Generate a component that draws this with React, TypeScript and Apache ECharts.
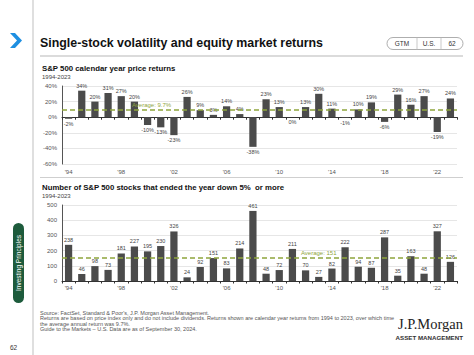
import React, { useEffect, useRef } from "react";
import * as echarts from "echarts";

const years = [
  "1994", "1995", "1996", "1997", "1998", "1999", "2000", "2001", "2002", "2003",
  "2004", "2005", "2006", "2007", "2008", "2009", "2010", "2011", "2012", "2013",
  "2014", "2015", "2016", "2017", "2018", "2019", "2020", "2021", "2022", "2023",
];
const returns = [-2, 34, 20, 31, 27, 20, -10, -13, -23, 26, 9, 3, 14, 4, -38, 23, 13, 0, 13, 30, 11, -1, 10, 19, -6, 29, 16, 27, -19, 24];
const down5 = [238, 46, 98, 73, 181, 227, 195, 230, 326, 24, 92, 151, 83, 214, 461, 48, 72, 211, 70, 27, 82, 222, 94, 87, 287, 35, 163, 48, 327, 126];
const avgReturn = 9.7;
const avgDown = 151;
const avgReturnLabelYear = "2000";
const avgDownLabelYear = "2013";

const footerLines = [
  "Source: FactSet, Standard & Poor's, J.P. Morgan Asset Management.",
  "Returns are based on price index only and do not include dividends. Returns shown are calendar year returns from 1994 to 2023, over which time",
  "the average annual return was 9.7%.",
  "Guide to the Markets – U.S. Data are as of September 30, 2024.",
];

const FONT = "'Liberation Sans', Arial, Helvetica, sans-serif";
const BAR = "#4b4b4b";
const GREEN = "#8fa53c";
const AX = "#555";

export default function App() {
  const ref = useRef<HTMLDivElement>(null);
  useEffect(() => {
    document.body.style.margin = "0";
    const chart = echarts.init(ref.current!, undefined, { renderer: "svg" });
    const yearLabel = (v: string) => "'" + v.slice(2);
    const option: any = {
      animation: false,
      textStyle: { fontFamily: FONT },
      grid: [
        { left: 62, right: 17, top: 86, bottom: 191 },
        { left: 62, right: 17, top: 205, bottom: 74 },
      ],
      xAxis: [
        {
          gridIndex: 0, type: "category", data: years, position: "bottom",
          axisLine: { onZero: false, show: false }, axisTick: { show: false },
          axisLabel: { interval: 3, formatter: yearLabel, fontSize: 6, color: AX, margin: 5 },
        },
        {
          gridIndex: 0, type: "category", data: years, position: "top",
          axisLine: { onZero: true, lineStyle: { color: "#333", width: 1 } },
          axisTick: { show: true, interval: 0, inside: true, length: 2.5, lineStyle: { color: "#333" } },
          axisLabel: { show: false },
        },
        {
          gridIndex: 1, type: "category", data: years,
          axisLine: { lineStyle: { color: "#333", width: 1 } },
          axisTick: { show: true, interval: 0, length: 2.5, lineStyle: { color: "#333" } },
          axisLabel: { interval: 3, formatter: yearLabel, fontSize: 6, color: AX, margin: 4 },
        },
      ],
      yAxis: [
        {
          gridIndex: 0, type: "value", min: -60, max: 40, interval: 20,
          axisLine: { show: true, lineStyle: { color: AX } }, axisTick: { show: false },
          axisLabel: { formatter: "{value}%", fontSize: 6, color: AX, margin: 5 },
          splitLine: { lineStyle: { color: "#e6e6e6" } },
        },
        {
          gridIndex: 1, type: "value", min: 0, max: 500, interval: 100,
          axisLine: { show: true, lineStyle: { color: AX } }, axisTick: { show: false },
          axisLabel: { fontSize: 6, color: AX, margin: 5 },
          splitLine: { lineStyle: { color: "#e6e6e6" } },
        },
      ],
      series: [
        {
          type: "bar", xAxisIndex: 0, yAxisIndex: 0, barWidth: "55%",
          itemStyle: { color: BAR },
          data: returns.map((v) => ({ value: v, label: { position: v <= 0 ? "bottom" : "top" } })),
          label: { show: true, formatter: "{c}%", fontSize: 5.5, color: "#444", distance: 2 },
          markLine: {
            silent: true, symbol: ["none", "none"], label: { show: false },
            lineStyle: { color: GREEN, type: [5, 3], width: 1.5 },
            data: [{ yAxis: avgReturn }],
          },
          markPoint: {
            symbol: "circle", symbolSize: 0, silent: true,
            data: [{ coord: [avgReturnLabelYear, avgReturn] }],
            label: { show: true, formatter: "Average: " + avgReturn + "%", position: "top", color: GREEN, fontSize: 6, distance: 2, offset: [4, 0] },
          },
        },
        {
          type: "bar", xAxisIndex: 2, yAxisIndex: 1, barWidth: "55%",
          itemStyle: { color: BAR },
          data: down5,
          label: { show: true, position: "top", fontSize: 5.5, color: "#444", distance: 2 },
          markLine: {
            silent: true, symbol: ["none", "none"], label: { show: false },
            lineStyle: { color: GREEN, type: [5, 3], width: 1.5 },
            data: [{ yAxis: avgDown }],
          },
          markPoint: {
            symbol: "circle", symbolSize: 0, silent: true,
            data: [{ coord: [avgDownLabelYear, avgDown] }],
            label: { show: true, formatter: "Average: " + avgDown, position: "top", color: GREEN, fontSize: 6, distance: 2 },
          },
        },
      ],
      graphic: [
        { type: "line", shape: { x1: 33, y1: 0, x2: 33, y2: 355 }, style: { stroke: "#d4d4d4", lineWidth: 1.5 } },
        { type: "polygon", shape: { points: [[10, 33], [15, 33], [22, 40.5], [15, 48], [10, 48], [17, 40.5]] }, style: { fill: "#1e8fe1" } },
        { type: "text", x: 40, y: 43, style: { text: "Single-stock volatility and equity market returns", fontSize: 12.4, fontWeight: "bold", fill: "#111", fontFamily: FONT, verticalAlign: "middle" } },
        { type: "rect", shape: { x: 387, y: 37.5, width: 76, height: 12, r: 6 }, style: { fill: "none", stroke: "#999", lineWidth: 0.8 } },
        { type: "line", shape: { x1: 417, y1: 37.5, x2: 417, y2: 49.5 }, style: { stroke: "#bbb", lineWidth: 0.8 } },
        { type: "line", shape: { x1: 441, y1: 37.5, x2: 441, y2: 49.5 }, style: { stroke: "#bbb", lineWidth: 0.8 } },
        { type: "text", x: 402, y: 43.5, style: { text: "GTM", fontSize: 6.5, fill: "#333", fontFamily: FONT, align: "center", verticalAlign: "middle" } },
        { type: "text", x: 429, y: 43.5, style: { text: "U.S.", fontSize: 6.5, fill: "#333", fontFamily: FONT, align: "center", verticalAlign: "middle" } },
        { type: "text", x: 452, y: 43.5, style: { text: "62", fontSize: 6.5, fill: "#333", fontFamily: FONT, align: "center", verticalAlign: "middle" } },
        { type: "line", shape: { x1: 40, y1: 56, x2: 463, y2: 56 }, style: { stroke: "#cfcfcf", lineWidth: 1.5 } },
        { type: "text", x: 42, y: 68, style: { text: "S&P 500 calendar year price returns", fontSize: 7.8, fontWeight: "bold", fill: "#111", fontFamily: FONT, verticalAlign: "middle" } },
        { type: "text", x: 42, y: 77, style: { text: "1994-2023", fontSize: 6, fill: "#444", fontFamily: FONT, verticalAlign: "middle" } },
        { type: "line", shape: { x1: 40, y1: 177.5, x2: 463, y2: 177.5 }, style: { stroke: "#cfcfcf", lineWidth: 1.2 } },
        { type: "text", x: 42, y: 187, style: { text: "Number of S&P 500 stocks that ended the year down 5%  or more", fontSize: 7.8, fontWeight: "bold", fill: "#111", fontFamily: FONT, verticalAlign: "middle" } },
        { type: "text", x: 42, y: 196, style: { text: "1994-2023", fontSize: 6, fill: "#444", fontFamily: FONT, verticalAlign: "middle" } },
        ...footerLines.map((t, i) => ({
          type: "text", x: 40, y: 313 + i * 5.3,
          style: { text: t, fontSize: 5.5, fill: "#555", fontFamily: FONT, verticalAlign: "middle" },
        })),
        { type: "text", x: 463, y: 324, style: { text: "J.P.Morgan", fontSize: 14.5, fill: "#222", fontFamily: "'Liberation Serif', 'Times New Roman', serif", align: "right", verticalAlign: "middle" } },
        { type: "text", x: 463, y: 337.5, style: { text: "ASSET MANAGEMENT", fontSize: 6.2, fontWeight: "bold", fill: "#333", fontFamily: FONT, align: "right", verticalAlign: "middle" } },
        { type: "rect", shape: { x: 13, y: 223, width: 11, height: 80, r: 5.5 }, style: { fill: "#1d5b3c" } },
        { type: "text", x: 18.5, y: 263, rotation: Math.PI / 2, style: { text: "Investing Principles", fontSize: 6.5, fill: "#fff", fontFamily: FONT, align: "center", verticalAlign: "middle" } },
        { type: "text", x: 10, y: 347, style: { text: "62", fontSize: 6.5, fill: "#333", fontFamily: FONT, verticalAlign: "middle" } },
      ],
    };
    chart.setOption(option);
    return () => chart.dispose();
  }, []);
  return <div ref={ref} style={{ position: "absolute", left: 0, top: 0, width: 474, height: 355 }} />;
}
